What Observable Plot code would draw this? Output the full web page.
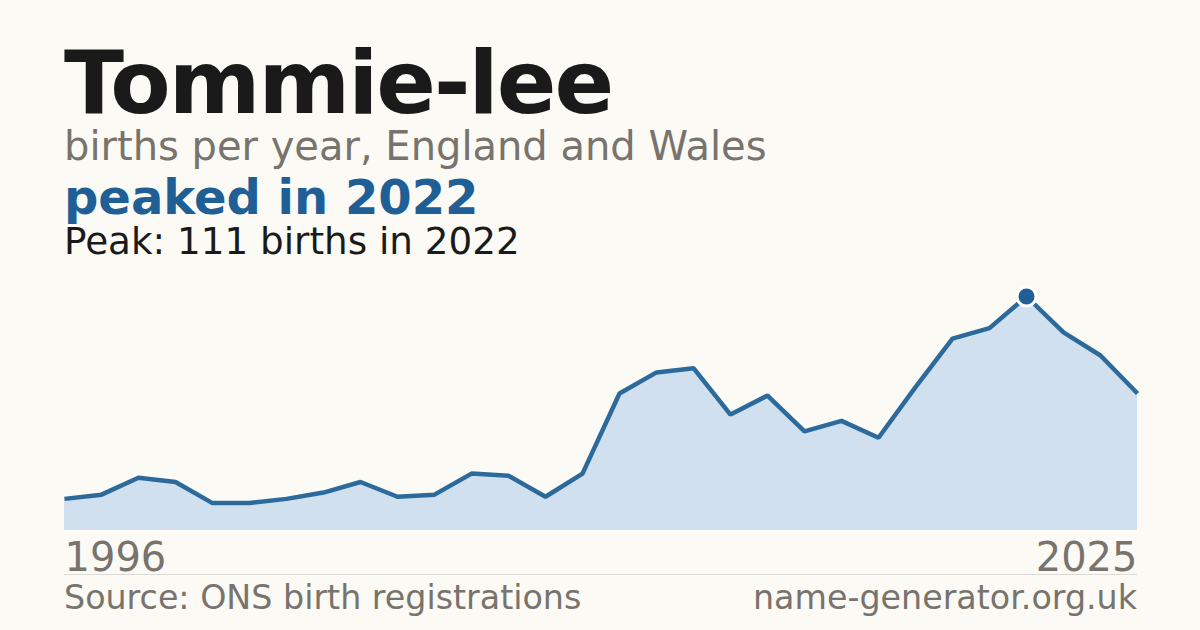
<!DOCTYPE html>
<html>
<head>
<meta charset="utf-8">
<script src="https://cdn.jsdelivr.net/npm/d3@7"></script>
<script src="https://cdn.jsdelivr.net/npm/@observablehq/plot@0.6"></script>
<style>
  html, body { margin: 0; padding: 0; }
  body { width: 1200px; height: 630px; background: #fbfaf5; position: relative; overflow: hidden; font-family: "DejaVu Sans", sans-serif; }
  .t { position: absolute; left: 64px; line-height: 0.9; white-space: nowrap; }
  #title { top: 43px; font-size: 88px; font-weight: bold; color: #1a1a1a; letter-spacing: -2px; }
  #sub { top: 128px; font-size: 40px; color: #78736c; }
  #hl { top: 176px; font-size: 48px; font-weight: bold; color: #1f5f96; }
  #peak { top: 225px; font-size: 37.3px; color: #1a1a1a; }
  #chart { position: absolute; left: 0; top: 270px; }
  #sep { position: absolute; left: 64px; top: 574px; width: 1073px; height: 1px; background: #dcdad4; }
  .foot { position: absolute; top: 583px; font-size: 33.3px; color: #78736c; line-height: 0.9; white-space: nowrap; }
  #src { left: 64px; }
  #site { right: 63px; }
</style>
</head>
<body>
<div class="t" id="title">Tommie-lee</div>
<div class="t" id="sub">births per year, England and Wales</div>
<div class="t" id="hl">peaked in 2022</div>
<div class="t" id="peak">Peak: 111 births in 2022</div>
<div id="chart"></div>
<div id="sep"></div>
<div class="foot" id="src">Source: ONS birth registrations</div>
<div class="foot" id="site">name-generator.org.uk</div>
<script>
const years = [1996,1997,1998,1999,2000,2001,2002,2003,2004,2005,2006,2007,2008,2009,2010,2011,2012,2013,2014,2015,2016,2017,2018,2019,2020,2021,2022,2023,2024,2025];
const births = [15,17,25,23,13,13,15,18,23,16,17,27,26,16,27,65,75,77,55,64,47,52,44,68,91,96,111,94,83,65];
const peakYear = 2022;
const firstLast = [years[0], years[years.length - 1]];

const data = years.map((year, i) => ({year, births: births[i]}));
const peak = data.filter(d => d.year === peakYear);

const chart = Plot.plot({
  width: 1200,
  height: 310,
  marginLeft: 64,
  marginRight: 63,
  marginTop: 26,
  marginBottom: 50,
  style: {background: "transparent", fontFamily: "DejaVu Sans"},
  x: {domain: [years[0], years[years.length - 1]], axis: null},
  y: {domain: [0, d3.max(births)], axis: null},
  marks: [
    Plot.areaY(data, {x: "year", y: "births", fill: "#d0e0ef"}),
    Plot.line(data, {x: "year", y: "births", stroke: "#2d6a9c", strokeWidth: 4.5, strokeLinecap: "butt", strokeLinejoin: "miter"}),
    Plot.dot(peak, {x: "year", y: "births", r: 9.5, fill: "#1f5f96", stroke: "#ffffff", strokeWidth: 3}),
    Plot.text([firstLast[0]], {x: d => d, y: 0, text: d => String(d), textAnchor: "start", lineAnchor: "bottom", dy: 40, fontSize: 40, fill: "#78736c"}),
    Plot.text([firstLast[1]], {x: d => d, y: 0, text: d => String(d), textAnchor: "end", lineAnchor: "bottom", dy: 40, fontSize: 40, fill: "#78736c"})
  ]
});
document.getElementById("chart").appendChild(chart);
</script>
</body>
</html>
